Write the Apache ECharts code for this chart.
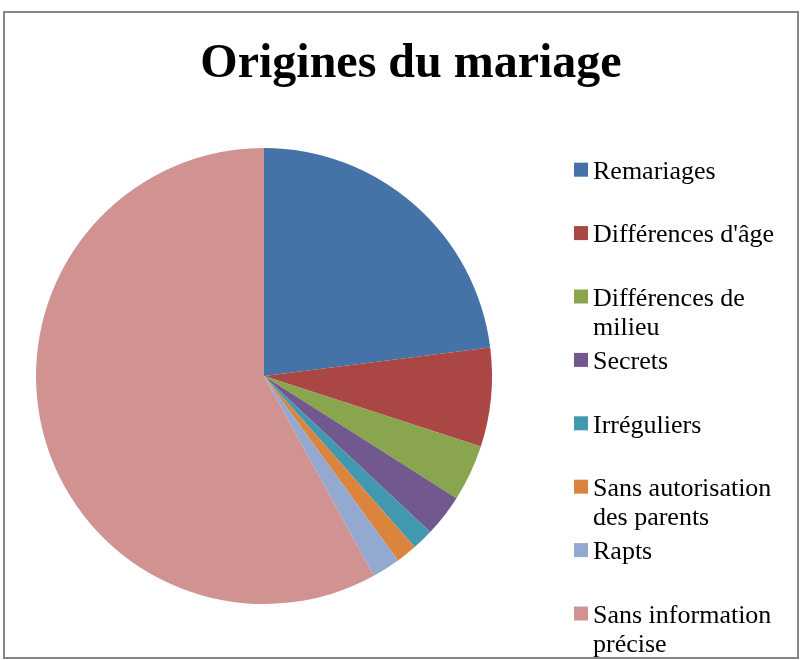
<!DOCTYPE html>
<html>
<head>
<meta charset="utf-8">
<script src="https://cdn.jsdelivr.net/npm/echarts@6/dist/echarts.min.js"></script>
<style>
  html, body { margin: 0; padding: 0; background: #fff; }
  #chart { width: 800px; height: 660px; }
</style>
</head>
<body>
<div id="chart"></div>
<script>
// donnees (en %)
const categories = ['Remariages', "Différences d'âge", 'Différences de milieu', 'Secrets',
  'Irréguliers', 'Sans autorisation des parents', 'Rapts', 'Sans information précise']
const values = [23, 7, 4, 3, 1.5, 1.5, 2, 58]
const colors = ['#4572A7', '#AA4643', '#89A54E', '#71588F', '#4198AF', '#DB843D', '#93A9CF', '#D19392']
// libelles de legende coupes comme dans l'original
const legendLines = {
  'Différences de milieu': ['Différences de', 'milieu'],
  'Sans autorisation des parents': ['Sans autorisation', 'des parents'],
  'Sans information précise': ['Sans information', 'précise']
}

const font = '"Liberation Serif", "Times New Roman", serif'
const lineH = 29
const shift = 5 // petite ligne vide pour descendre le texte au niveau du carre

// une legende par entree pour garder un pas regulier,
// le carre reste sur la premiere ligne du libelle
const legends = categories.map((name, i) => {
  const lines = legendLines[name] || [name]
  const spacer = shift + (lines.length - 1) * lineH
  const blockH = spacer + lines.length * lineH
  const markerCenter = 169.7 + i * 63.4
  // correction mesuree sur le rendu
  const fix = lines.length > 1 ? 16.5 : 2
  return {
    data: [name],
    orient: 'vertical',
    left: 574,
    top: markerCenter - blockH / 2 + fix,
    padding: 0,
    itemWidth: 14,
    itemHeight: 14,
    icon: 'rect',
    selectedMode: false,
    formatter: () => ['{s| }'].concat(lines.map(l => '{t|' + l + '}')).join('\n'),
    textStyle: {
      fontFamily: font,
      fontSize: 26,
      color: '#000',
      rich: {
        s: { fontSize: 1, lineHeight: spacer },
        t: { fontFamily: font, fontSize: 26, color: '#000', lineHeight: lineH }
      }
    }
  }
})

const myChart = echarts.init(document.getElementById('chart'))
myChart.setOption({
  animation: false,
  color: colors,
  title: {
    text: 'Origines du mariage',
    left: 406,
    textAlign: 'center',
    top: 36,
    textStyle: {
      fontFamily: font,
      fontSize: 48,
      fontWeight: 'bold',
      color: '#000'
    }
  },
  graphic: [{
    type: 'rect',
    shape: { x: 4, y: 12, width: 794, height: 646 },
    style: { fill: 'none', stroke: '#868686', lineWidth: 2 },
    silent: true
  }],
  legend: legends,
  series: [{
    name: 'Origines du mariage',
    type: 'pie',
    center: [264, 376],
    radius: 228,
    startAngle: 90,
    clockwise: true,
    label: { show: false },
    labelLine: { show: false },
    itemStyle: { borderWidth: 0 },
    emphasis: { disabled: true },
    data: categories.map((name, i) => ({ name, value: values[i] }))
  }]
})
</script>
</body>
</html>
